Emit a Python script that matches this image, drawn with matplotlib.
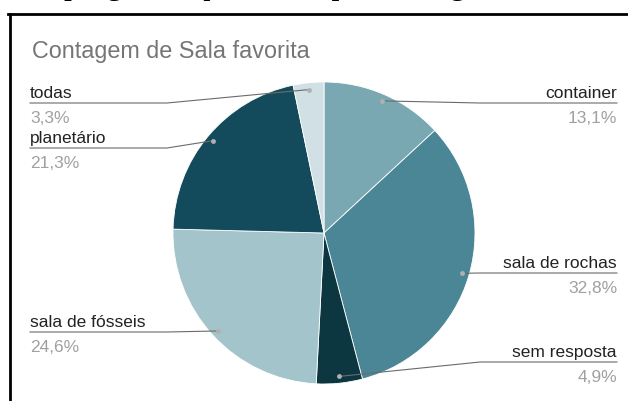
import matplotlib
matplotlib.use("Agg")
import numpy as np
import matplotlib.pyplot as plt
from matplotlib.lines import Line2D
from matplotlib.transforms import Affine2D

# Answers to "Sala favorita"
categories = ["container", "sala de rochas", "sem resposta",
              "sala de fósseis", "planetário", "todas"]
counts = [8, 20, 3, 15, 13, 2]
colors = ["#79a8b2", "#4a8695", "#0c3741", "#a3c4cb", "#134b5c", "#d0e0e4"]

title = "Contagem de Sala favorita"
heading = "o programa que mais apreciou agora"

W, H = 628, 401
fig = plt.figure(figsize=(W / 100, H / 100), dpi=100)
fig.patch.set_facecolor("white")
# pixel coordinates measured from the top-left corner
pix = Affine2D().scale(1 / W, -1 / H).translate(0, 1) + fig.transFigure

# heading line above the chart frame, mostly outside the canvas
fig.text(40, -6, heading, transform=pix, family="Liberation Serif",
         fontsize=23, color="black", va="baseline", ha="left")

# chart frame
fig.add_artist(Line2D([8, W + 5], [14, 14], transform=pix, color="black", lw=2.0))
fig.add_artist(Line2D([9.5, 9.5], [14, H + 5], transform=pix, color="black", lw=2.0))

fig.text(32, 58, title, transform=pix, family="Liberation Sans", fontsize=16.8,
         color="#757575", va="baseline", ha="left")

# pie
cx, cy, R = 324, 233, 151
ax = fig.add_axes([(cx - R) / W, 1 - (cy + R) / H, 2 * R / W, 2 * R / H])
wedges, _ = ax.pie(counts, colors=colors, startangle=90, counterclock=False,
                   radius=1, wedgeprops=dict(edgecolor="white", linewidth=0.6))
ax.set_xlim(-1, 1)
ax.set_ylim(-1, 1)
ax.set_axis_off()

total = sum(counts)
percents = [f"{100 * c / total:.1f}%".replace(".", ",") for c in counts]

# label placement: side of the chart and height of the leader line (px)
placement = {
    "container": ("right", 103),
    "sala de rochas": ("right", 273),
    "sem resposta": ("right", 362),
    "sala de fósseis": ("left", 332),
    "planetário": ("left", 148),
    "todas": ("left", 103),
}
left_x, left_elbow = 30, 167
right_x, right_elbow = 617, 480

inv = pix.inverted()
for w, name, pct in zip(wedges, categories, percents):
    mid = np.deg2rad((w.theta1 + w.theta2) / 2)
    px, py = inv.transform(ax.transData.transform((0.955 * np.cos(mid),
                                                   0.955 * np.sin(mid))))
    side, ly = placement[name]
    if side == "left":
        xs = [left_x, left_elbow, px]
        tx, ha = left_x, "left"
    else:
        xs = [right_x, right_elbow, px]
        tx, ha = right_x, "right"
    fig.add_artist(Line2D(xs, [ly, ly, py], transform=pix, color="#6b6b6b", lw=0.8))
    fig.add_artist(Line2D([px], [py], transform=pix, marker="o", ms=3.5,
                          color="#b0b0b0", mec="none", lw=0))
    fig.text(tx, ly - 5, name, transform=pix, family="Liberation Sans", fontsize=12.5,
             color="#222222", ha=ha, va="baseline")
    fig.text(tx, ly + 20, pct, transform=pix, family="Liberation Sans", fontsize=12.5,
             color="#a0a0a0", ha=ha, va="baseline")

fig.savefig("out.png", dpi=100, facecolor="white")
